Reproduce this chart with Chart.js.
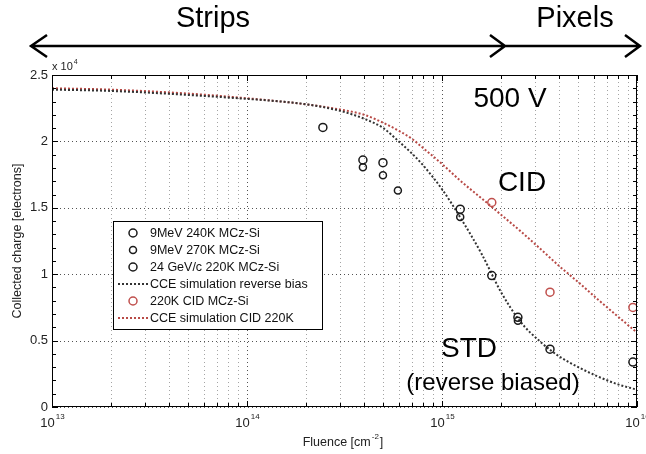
<!DOCTYPE html>
<html>
<head>
<meta charset="utf-8">
<script src="https://cdn.jsdelivr.net/npm/chart.js@4.4.1/dist/chart.umd.min.js"></script>
<style>
  html, body { margin: 0; padding: 0; background: #fff; }
  #wrap { width: 646px; height: 454px; position: relative; }
</style>
</head>
<body>
<div id="wrap"><canvas id="c" width="646" height="454"></canvas></div>
<script>
// Fluence in cm^-2, collected charge in electrons
const simFluence = [1e13, 2e13, 5e13, 1e14, 1.5e14, 2e14, 3e14, 4e14, 5e14, 6e14, 7e14, 8e14, 1e15, 1.25e15, 1.6e15, 2e15, 2.5e15, 3.2e15, 4e15, 5e15, 6.3e15, 8e15, 1e16];
const simReverseCharge = [23900, 23800, 23500, 23200, 23000, 22800, 22300, 21700, 21000, 20000, 19100, 18200, 16400, 14200, 11500, 8700, 6500, 4900, 3800, 3000, 2300, 1700, 1300];
const simCidCharge = [24000, 23900, 23600, 23250, 23000, 22800, 22400, 22000, 21400, 20800, 20200, 19500, 18300, 17000, 15700, 14500, 13300, 11900, 10600, 9400, 8100, 6800, 5600];

const mev240Fluence = [3.93e14, 4.98e14, 1.24e15, 2.45e15];
const mev240Charge = [18600, 18400, 14900, 6750];
const mev270Fluence = [3.93e14, 4.98e14, 5.94e14, 1.24e15, 2.45e15];
const mev270Charge = [18050, 17450, 16300, 14300, 6500];
const gev24Fluence = [2.45e14, 1.8e15, 3.58e15, 9.53e15];
const gev24Charge = [21050, 9900, 4350, 3380];
const cidFluence = [1.8e15, 3.58e15, 9.53e15];
const cidCharge = [15400, 8650, 7500];

const xDecades = [1e13, 1e14, 1e15, 1e16];
const xExponents = ['13', '14', '15', '16'];
const yTicks = [0, 5000, 10000, 15000, 20000, 25000];
const yTickLabels = ['0', '0.5', '1', '1.5', '2', '2.5'];

const legendLabels = ['9MeV 240K MCz-Si', '9MeV 270K MCz-Si', '24 GeV/c 220K MCz-Si',
  'CCE simulation reverse bias', '220K CID MCz-Si', 'CCE simulation CID 220K'];

const pts = (xs, ys) => xs.map((v, i) => ({ x: v, y: ys[i] }));

const BLACK = '#1a1a1a';
const RED = '#c0504d';
const RED_LINE = '#b84a46';

// all 1..9 x 10^n positions for the log axis
const logTicks = [];
for (let e = 13; e <= 15; e++) for (let m = 1; m <= 9; m++) logTicks.push(m * Math.pow(10, e));
logTicks.push(1e16);

const markerSet = (label, data, radius) => ({
  label, data, type: 'line', showLine: false,
  pointStyle: 'circle', pointRadius: radius, pointHoverRadius: radius,
  pointBorderWidth: 1.5, borderColor: BLACK, pointBorderColor: BLACK,
  pointBackgroundColor: 'rgba(0,0,0,0)', backgroundColor: 'rgba(0,0,0,0)', order: 1
});

const datasets = [
  markerSet(legendLabels[0], pts(mev240Fluence, mev240Charge), 4),
  markerSet(legendLabels[1], pts(mev270Fluence, mev270Charge), 3.5),
  markerSet(legendLabels[2], pts(gev24Fluence, gev24Charge), 4),
  {
    label: legendLabels[3], data: pts(simFluence, simReverseCharge), type: 'line',
    borderColor: '#333', borderWidth: 2, borderDash: [2, 2], pointRadius: 0,
    cubicInterpolationMode: 'monotone', fill: false, order: 2
  },
  {
    label: legendLabels[4], data: pts(cidFluence, cidCharge), type: 'line', showLine: false,
    pointStyle: 'circle', pointRadius: 4, pointBorderWidth: 1.5,
    borderColor: RED, pointBorderColor: RED, pointBackgroundColor: 'rgba(0,0,0,0)', order: 1
  },
  {
    label: legendLabels[5], data: pts(simFluence, simCidCharge), type: 'line',
    borderColor: RED_LINE, borderWidth: 2, borderDash: [2, 2], pointRadius: 0,
    cubicInterpolationMode: 'monotone', fill: false, order: 2
  }
];

const FONT = '"Liberation Sans", Arial, sans-serif';

// dotted grid under the data
const dottedGrid = {
  id: 'dottedGrid',
  beforeDatasetsDraw(chart) {
    const { ctx, chartArea: a, scales } = chart;
    const xs = scales.x, ys = scales.y;
    ctx.save();
    ctx.lineWidth = 1;
    ctx.setLineDash([1, 3]);
    logTicks.forEach(v => {
      const px = Math.round(xs.getPixelForValue(v)) + 0.5;
      ctx.strokeStyle = xDecades.includes(v) ? 'rgba(40,40,40,0.8)' : 'rgba(90,90,90,0.55)';
      ctx.beginPath();
      ctx.moveTo(px, a.bottom); ctx.lineTo(px, a.top);
      ctx.stroke();
    });
    ctx.strokeStyle = 'rgba(40,40,40,0.8)';
    yTicks.forEach(v => {
      const py = Math.round(ys.getPixelForValue(v)) + 0.5;
      ctx.beginPath();
      ctx.moveTo(a.left, py); ctx.lineTo(a.right, py);
      ctx.stroke();
    });
    ctx.restore();
  }
};

const decor = {
  id: 'decor',
  afterDraw(chart) {
    const { ctx, chartArea: a, scales } = chart;
    const xs = scales.x, ys = scales.y;
    ctx.save();

    // frame
    ctx.strokeStyle = '#000';
    ctx.lineWidth = 1;
    ctx.setLineDash([]);
    ctx.strokeRect(Math.round(a.left) + 0.5, Math.round(a.top) + 0.5,
      Math.round(a.right - a.left) - 1, Math.round(a.bottom - a.top) - 1);

    // inward ticks, x
    ctx.beginPath();
    logTicks.forEach(v => {
      const px = Math.round(xs.getPixelForValue(v)) + 0.5;
      const len = xDecades.includes(v) ? 6 : 4;
      ctx.moveTo(px, a.bottom); ctx.lineTo(px, a.bottom - len);
      ctx.moveTo(px, a.top); ctx.lineTo(px, a.top + len);
    });
    // inward ticks, y
    for (let v = 0; v <= 25000; v += 1000) {
      const py = Math.round(ys.getPixelForValue(v)) + 0.5;
      const len = v % 5000 === 0 ? 6 : 4;
      ctx.moveTo(a.left, py); ctx.lineTo(a.left + len, py);
      ctx.moveTo(a.right, py); ctx.lineTo(a.right - len, py);
    }
    ctx.stroke();

    // x tick labels 10^n
    ctx.fillStyle = '#222';
    ctx.textBaseline = 'alphabetic';
    xDecades.forEach((v, i) => {
      const px = xs.getPixelForValue(v);
      ctx.font = '13px ' + FONT;
      const w1 = ctx.measureText('10').width;
      ctx.font = '8px ' + FONT;
      const w2 = ctx.measureText(xExponents[i]).width;
      const x0 = px - (w1 + w2) / 2;
      ctx.font = '13px ' + FONT;
      ctx.textAlign = 'left';
      ctx.fillText('10', x0, a.bottom + 20);
      ctx.font = '8px ' + FONT;
      ctx.fillText(xExponents[i], x0 + w1 + 1, a.bottom + 12);
    });

    // multiplier above the y axis
    ctx.font = '11px ' + FONT;
    ctx.textAlign = 'left';
    ctx.fillText('x 10', a.left, a.top - 5);
    const wm = ctx.measureText('x 10').width;
    ctx.font = '7px ' + FONT;
    ctx.fillText('4', a.left + wm + 1, a.top - 11);

    // axis titles
    ctx.font = '12.5px ' + FONT;
    ctx.textAlign = 'left';
    const t1 = 'Fluence [cm';
    const wt1 = ctx.measureText(t1).width;
    ctx.font = '8px ' + FONT;
    const wsup = ctx.measureText('-2').width;
    ctx.font = '12.5px ' + FONT;
    const wt2 = ctx.measureText(']').width;
    const tx = 343 - (wt1 + wsup + wt2 + 2) / 2;
    ctx.fillText(t1, tx, 446);
    ctx.font = '8px ' + FONT;
    ctx.fillText('-2', tx + wt1 + 1, 439);
    ctx.font = '12.5px ' + FONT;
    ctx.fillText(']', tx + wt1 + wsup + 2, 446);

    ctx.save();
    ctx.translate(21, (a.top + a.bottom) / 2);
    ctx.rotate(-Math.PI / 2);
    ctx.textAlign = 'center';
    ctx.fillText('Collected charge [electrons]', 0, 0);
    ctx.restore();

    // legend box
    const lx = 113, ly = 221, lw = 209, lh = 108;
    ctx.fillStyle = '#fff';
    ctx.fillRect(lx, ly, lw, lh);
    ctx.strokeStyle = '#000';
    ctx.lineWidth = 1;
    ctx.strokeRect(lx + 0.5, ly + 0.5, lw, lh);
    chart.data.datasets.forEach((ds, i) => {
      const ry = 233 + 17 * i;
      if (ds.showLine === false) {
        ctx.beginPath();
        ctx.setLineDash([]);
        ctx.lineWidth = 1.5;
        ctx.strokeStyle = ds.pointBorderColor;
        ctx.arc(133, ry, ds.pointRadius, 0, Math.PI * 2);
        ctx.stroke();
      } else {
        ctx.beginPath();
        ctx.setLineDash([2, 2]);
        ctx.lineWidth = 2;
        ctx.strokeStyle = ds.borderColor;
        ctx.moveTo(118, ry); ctx.lineTo(149, ry);
        ctx.stroke();
      }
      ctx.setLineDash([]);
      ctx.fillStyle = '#111';
      ctx.font = '12.5px ' + FONT;
      ctx.textAlign = 'left';
      ctx.textBaseline = 'middle';
      ctx.fillText(ds.label, 150, ry + 0.5);
    });

    // annotations inside the plot
    ctx.textBaseline = 'middle';
    ctx.textAlign = 'center';
    ctx.fillStyle = '#000';
    ctx.font = '28px ' + FONT;
    ctx.fillText('500 V', 510, 99);
    ctx.fillText('CID', 522, 183);
    ctx.fillText('STD', 469, 349);
    ctx.font = '24px ' + FONT;
    ctx.fillText('(reverse biased)', 493, 383);

    // Strips / Pixels banner
    ctx.font = '29px ' + FONT;
    ctx.fillText('Strips', 213, 19);
    ctx.fillText('Pixels', 575, 19);

    ctx.strokeStyle = '#000';
    ctx.lineWidth = 2.5;
    ctx.lineJoin = 'miter';
    const ay = 46;
    ctx.beginPath();
    ctx.moveTo(31, ay); ctx.lineTo(640, ay);
    ctx.moveTo(47, ay - 11); ctx.lineTo(31, ay); ctx.lineTo(47, ay + 11);
    ctx.moveTo(490, ay - 11); ctx.lineTo(505, ay); ctx.lineTo(490, ay + 11);
    ctx.moveTo(625, ay - 11); ctx.lineTo(640, ay); ctx.lineTo(625, ay + 11);
    ctx.stroke();

    ctx.restore();
  }
};

new Chart(document.getElementById('c'), {
  type: 'line',
  data: { datasets },
  options: {
    responsive: false,
    animation: false,
    layout: { padding: { top: 75, right: 9, left: 0, bottom: 0 } },
    plugins: { legend: { display: false }, tooltip: { enabled: false } },
    scales: {
      x: {
        type: 'logarithmic', min: 1e13, max: 1e16,
        afterBuildTicks: s => { s.ticks = logTicks.map(v => ({ value: v })); },
        afterFit: s => { s.height = 47; },
        ticks: { display: false },
        grid: { display: false },
        border: { display: false }
      },
      y: {
        type: 'linear', min: 0, max: 25000,
        afterBuildTicks: s => { s.ticks = yTicks.map(v => ({ value: v })); },
        afterFit: s => { s.width = 52; },
        ticks: {
          padding: 4, color: '#222', font: { family: FONT, size: 13 },
          callback: (v) => yTickLabels[yTicks.indexOf(v)]
        },
        grid: { display: false, drawTicks: false },
        border: { display: false }
      }
    }
  },
  plugins: [dottedGrid, decor]
});
</script>
</body>
</html>
